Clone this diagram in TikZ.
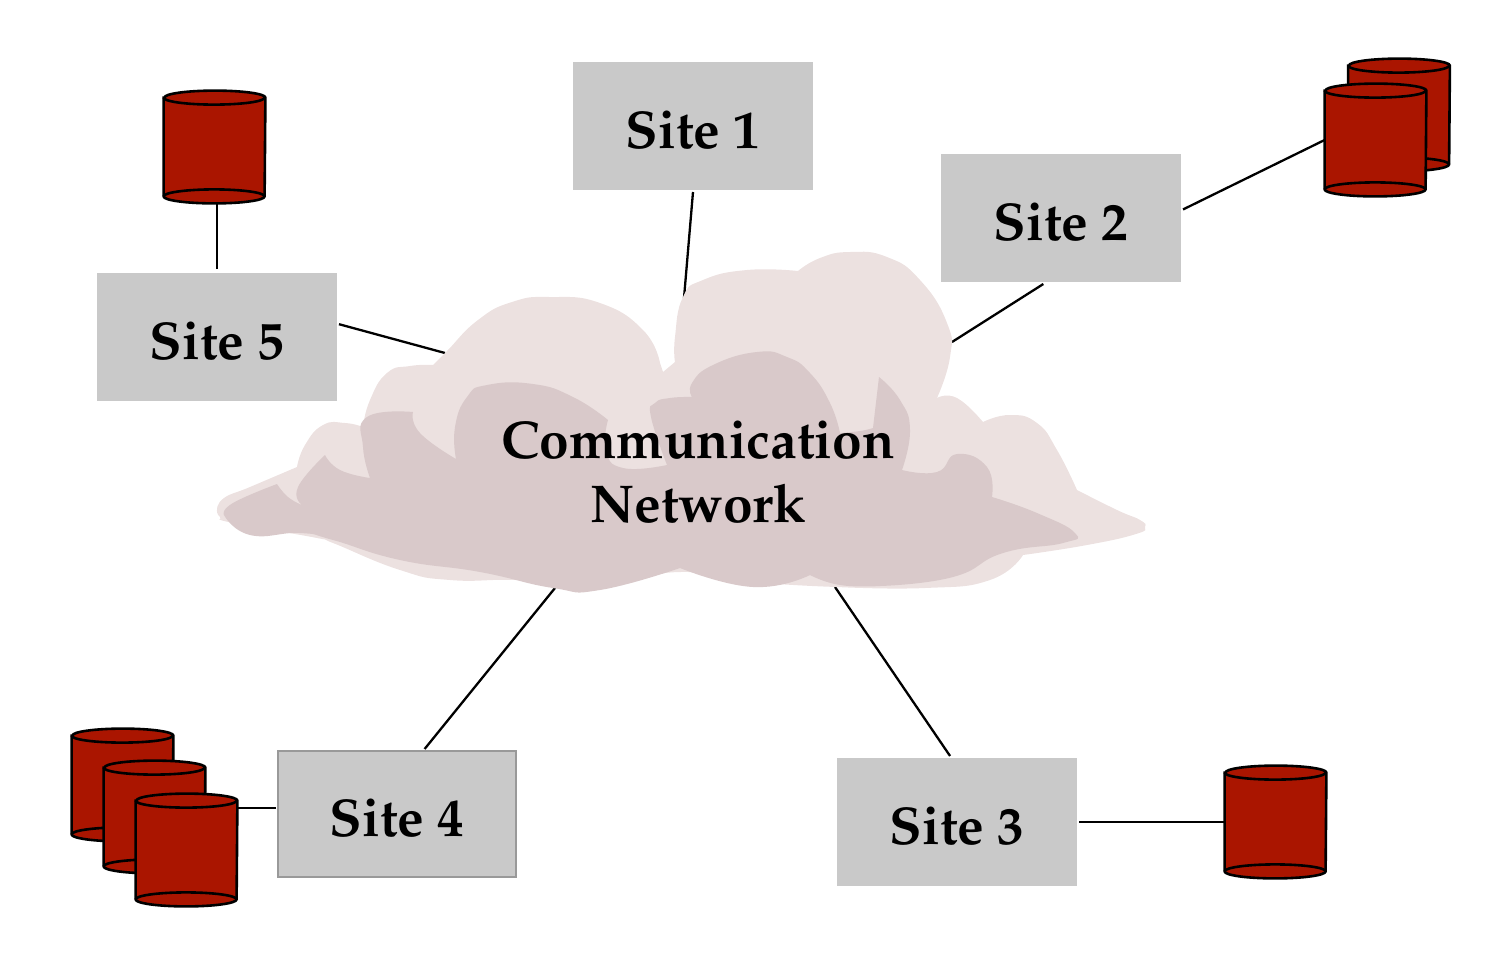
\documentclass[tikz,border=0pt]{standalone}
\usepackage[T1]{fontenc}
\usepackage{mathpazo}
\usepackage{xcolor}
\usepackage{tikz}

\definecolor{siteGrey}{HTML}{C9C9C9}
\definecolor{siteEdge}{HTML}{999999}
\definecolor{driveRed}{HTML}{AA1500}
\definecolor{cloudLight}{HTML}{ECE1E0}
\definecolor{cloudDark}{HTML}{D9C9CA}

\tikzset{
    siteBox/.style = {fill = siteGrey, minimum width = 120pt, minimum height = 64pt,
        inner sep = 0pt, outer sep = 1pt, text height = 22pt, text depth = 0pt,
        font = \fontsize{26.6}{32}\selectfont\bfseries},
    driveBody/.style = {minimum width = 50.5pt, minimum height = 49pt, inner sep = 0pt},
    driveLine/.style = {draw = black, fill = driveRed, line width = 1.3pt},
    link/.style = {black, line width = 1.15pt},
    edgePart/.style = {smooth, tension = 0.85}
}

\newcommand{\drive}[2]{
    \node[driveBody] (#1) at #2 {};
    \draw[driveLine] (#1.north west) -- (#1.south west) arc (180:360:25.25pt and 3.5pt)
        -- (#1.north east) arc (0:180:25.25pt and 3.5pt) -- cycle;
    \draw[driveLine, fill = none] (#1.north west) arc (180:360:25.25pt and 3.5pt);
    \draw[driveLine, fill = none] (#1.south west) arc (180:0:25.25pt and 3.5pt);
}

\begin{document}
\begin{tikzpicture}[x = 0.5pt, y = -0.5pt]
        \useasboundingbox (0, 0) rectangle (1489, 976);

        \node[siteBox] (siteOne) at (693, 126) {Site 1};
        \node[siteBox] (siteTwo) at (1061, 218) {Site 2};
        \node[siteBox] (siteThree) at (957, 822) {Site 3};
        \node[siteBox, draw = siteEdge, line width = 1pt, minimum width = 119pt, minimum height = 63pt] (siteFour) at (397, 814) {Site 4\hspace{2.5pt}};
        \node[siteBox] (siteFive) at (217, 337) {Site 5};

        \coordinate (cloudTop) at (684, 298);
        \coordinate (cloudRight) at (952, 342);
        \coordinate (cloudLeft) at (445, 353);
        \coordinate (cloudLow) at (555, 588);
        \coordinate (cloudLowB) at (835, 587);

        \draw[link] (siteOne.south) -- (cloudTop);
        \draw[link] (siteTwo.255) -- (cloudRight);
        \draw[link] (siteThree.96) -- (cloudLowB);
        \draw[link] (siteFour.67) -- (cloudLow);
        \draw[link] (siteFive.6) -- (cloudLeft);

        \fill[cloudLight]
            plot[edgePart] coordinates {(217, 510) (224, 498) (250, 487) (297, 467)}
            -- plot[edgePart] coordinates {(297, 467) (305, 445) (323, 425) (345, 423) (363, 427)}
            -- plot[edgePart] coordinates {(363, 427) (370, 400) (387, 373) (410, 366) (433, 365)}
            -- plot[edgePart] coordinates {(433, 365) (447, 351) (478, 320) (512, 302) (550, 297) (600, 303) (643, 330) (660, 363)}
            -- (663, 372)
            -- plot[edgePart] coordinates {(663, 372) (675, 362)}
            -- plot[edgePart] coordinates {(675, 362) (675, 337) (683, 297) (703, 280) (747, 270) (798, 271)}
            -- plot[edgePart] coordinates {(798, 271) (820, 258) (850, 252) (887, 257) (920, 280) (947, 323) (950, 357) (937, 398)}
            -- plot[edgePart] coordinates {(937, 398) (957, 398) (983, 422)}
            -- plot[edgePart] coordinates {(983, 422) (1010, 415) (1037, 423) (1057, 450) (1077, 490)}
            -- plot[edgePart] coordinates {(1077, 490) (1117, 510) (1140, 520) (1145, 527) (1136, 534) (1087, 545) (1023, 555)}
            -- plot[edgePart] coordinates {(1023, 555) (990, 580) (925, 588) (837, 587)}
            -- plot[edgePart] coordinates {(837, 587) (753, 582) (680, 572) (600, 585) (520, 580) (450, 580) (400, 570) (333, 543) (317, 538) (233, 523) (220, 517) (217, 510)}
            -- cycle;

        \fill[cloudDark]
            plot[edgePart] coordinates {(224, 515) (233, 503) (277, 484)}
            -- plot[edgePart] coordinates {(277, 484) (288, 497) (302, 505)}
            -- plot[edgePart] coordinates {(302, 505) (298, 487) (325, 455)}
            -- plot[edgePart] coordinates {(325, 455) (340, 470) (370, 478)}
            -- plot[edgePart] coordinates {(370, 478) (363, 447) (367, 417) (413, 412)}
            -- plot[edgePart] coordinates {(413, 412) (420, 433) (456, 459)}
            -- plot[edgePart] coordinates {(456, 459) (455, 427) (467, 397) (487, 385) (533, 384) (573, 397) (608, 420)}
            -- plot[edgePart] coordinates {(608, 420) (606, 450) (623, 468) (667, 465)}
            -- plot[edgePart] coordinates {(667, 465) (651, 417) (655, 403) (670, 398) (692, 397)}
            -- plot[edgePart] coordinates {(692, 397) (692, 383) (713, 365) (757, 352) (787, 357) (810, 373) (830, 403) (840, 433)}
            -- plot[edgePart] coordinates {(840, 433) (860, 431) (873, 428)}
            -- (879, 377)
            -- plot[edgePart] coordinates {(879, 377) (900, 400) (910, 430) (902, 470)}
            -- plot[edgePart] coordinates {(902, 470) (937, 472) (957, 454) (987, 467) (992, 497)}
            -- plot[edgePart] coordinates {(992, 497) (1037, 513) (1075, 533) (1063, 543) (1003, 553) (953, 577) (880, 586)}
            -- plot[edgePart] coordinates {(880, 586) (840, 585) (810, 575)}
            -- plot[edgePart] coordinates {(810, 575) (753, 587) (680, 568)}
            -- plot[edgePart] coordinates {(680, 568) (600, 590) (553, 588) (480, 572) (400, 560) (333, 540) (300, 533) (250, 535) (224, 515)}
            -- cycle;

        \node[font = \fontsize{26.6}{32}\selectfont\bfseries, align = center, inner sep = 0pt] (cloudText) at (698, 472) {Communication\\Network};

        \drive{driveFive}{(214.5, 147)}
        \drive{driveTwoB}{(1399, 115)}
        \drive{driveTwoA}{(1375.5, 140)}
        \drive{driveThree}{(1275.5, 822)}
        \drive{driveFourC}{(122.5, 785)}
        \drive{driveFourB}{(154.5, 817)}
        \drive{driveFourA}{(186.5, 850)}

        \draw[link, shorten > = 4pt, shorten < = 1pt] (siteFive.north) -- (siteFive.north |- driveFive.south);
        \draw[link] (siteTwo.4) -- (driveTwoA.west);
        \draw[link] (siteThree.east) -- (driveThree.west);
        \draw[link] (siteFour.177) -- (siteFour.177 -| driveFourA.east);
    \end{tikzpicture}
\end{document}
